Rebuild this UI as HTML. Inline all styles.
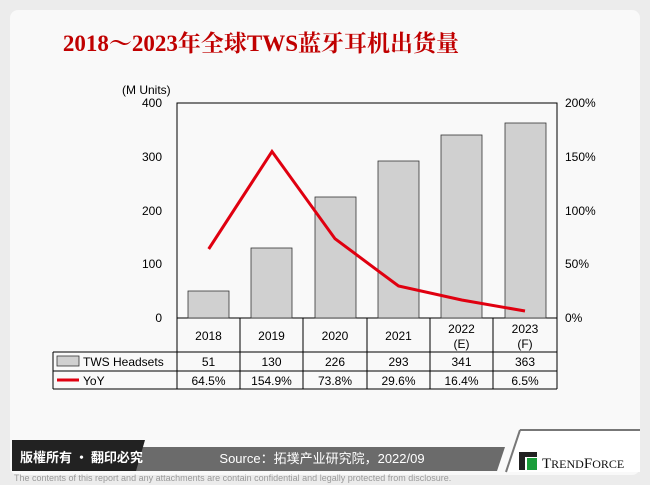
<!DOCTYPE html>
<html><head><meta charset="utf-8"><style>
body{margin:0;width:650px;height:485px;background:#ececec;overflow:hidden;font-family:"Liberation Sans","Noto Sans CJK SC",sans-serif;}
</style></head><body>
<svg width="650" height="485" xmlns="http://www.w3.org/2000/svg" style="position:absolute;left:0;top:0">
<rect x="10" y="10" width="630" height="465" rx="8" fill="#f9f9f9"/>
<text x="261" y="51" text-anchor="middle" font-family="Liberation Serif,'Noto Serif CJK SC',serif" font-weight="bold" font-size="23" fill="#c00000">2018～2023年全球TWS蓝牙耳机出货量</text>
<g font-size="12" fill="#000">
<text x="122" y="94">(M Units)</text>
<text x="162" y="107" text-anchor="end">400</text>
<text x="162" y="161" text-anchor="end">300</text>
<text x="162" y="215" text-anchor="end">200</text>
<text x="162" y="268" text-anchor="end">100</text>
<text x="162" y="322" text-anchor="end">0</text>
<text x="565" y="107">200%</text>
<text x="565" y="161">150%</text>
<text x="565" y="215">100%</text>
<text x="565" y="268">50%</text>
<text x="565" y="322">0%</text>
</g>
<rect x="177" y="103" width="380" height="215" fill="none" stroke="#000" stroke-width="1"/>
<g fill="#d0d0d0" stroke="#333" stroke-width="0.8">
<rect x="188" y="291" width="41" height="27"/>
<rect x="251" y="248" width="41" height="70"/>
<rect x="315" y="197" width="41" height="121"/>
<rect x="378" y="161" width="41" height="157"/>
<rect x="441" y="135" width="41" height="183"/>
<rect x="505" y="123" width="41" height="195"/>
</g>
<polyline points="208.7,249 272,151.5 335,238.7 398.5,286 461.7,300 525,311" fill="none" stroke="#e00010" stroke-width="3"/>
<g stroke="#000" stroke-width="1" fill="none">
<line x1="177" y1="318" x2="177" y2="389"/>
<line x1="240" y1="318" x2="240" y2="389"/>
<line x1="303" y1="318" x2="303" y2="389"/>
<line x1="367" y1="318" x2="367" y2="389"/>
<line x1="430" y1="318" x2="430" y2="389"/>
<line x1="493" y1="318" x2="493" y2="389"/>
<line x1="557" y1="318" x2="557" y2="389"/>
<line x1="53" y1="352" x2="557" y2="352"/>
<line x1="53" y1="371" x2="557" y2="371"/>
<line x1="53" y1="389" x2="557" y2="389"/>
<line x1="53" y1="352" x2="53" y2="389"/>
</g>
<g font-size="12" text-anchor="middle">
<text x="208.5" y="340">2018</text><text x="271.5" y="340">2019</text><text x="335" y="340">2020</text><text x="398.5" y="340">2021</text>
<text x="461.5" y="333">2022</text><text x="461.5" y="348">(E)</text><text x="525" y="333">2023</text><text x="525" y="348">(F)</text>
<text x="208.5" y="366">51</text><text x="271.5" y="366">130</text><text x="335" y="366">226</text><text x="398.5" y="366">293</text><text x="461.5" y="366">341</text><text x="525" y="366">363</text>
<text x="208.5" y="385">64.5%</text><text x="271.5" y="385">154.9%</text><text x="335" y="385">73.8%</text><text x="398.5" y="385">29.6%</text><text x="461.5" y="385">16.4%</text><text x="525" y="385">6.5%</text>
</g>
<rect x="57" y="356" width="22" height="10" fill="#d0d0d0" stroke="#333" stroke-width="0.8"/>
<text x="83" y="366" font-size="12">TWS Headsets</text>
<line x1="57" y1="380" x2="79" y2="380" stroke="#e00010" stroke-width="3"/>
<text x="83" y="385" font-size="12">YoY</text>
<polygon points="140,447 505,447 497,471 130,471" fill="#6b6b6b"/>
<polygon points="12,440 145,440 136,471 12,471" fill="#222"/>
<polygon points="520,430 640,430 640,472 506,472" fill="#fff"/>
<line x1="520" y1="430" x2="640" y2="430" stroke="#777" stroke-width="2"/>
<line x1="520" y1="430" x2="506" y2="472" stroke="#777" stroke-width="2"/>
<text x="20" y="462" font-size="13" font-weight="bold" fill="#fff" font-family="'Noto Sans CJK TC',sans-serif">版權所有 · 翻印必究</text>
<text x="322" y="463" text-anchor="middle" font-size="13" fill="#fff">Source：拓墣产业研究院，2022/09</text>
<rect x="519" y="452" width="6" height="18" fill="#222"/><rect x="519" y="452" width="18" height="5" fill="#222"/>
<rect x="527" y="458" width="10" height="12" fill="#1a9d3a"/>
<text x="542" y="468" font-size="15" font-family="Liberation Serif,serif" fill="#111">T<tspan font-size="12">REND</tspan>F<tspan font-size="12">ORCE</tspan></text>
<text x="14" y="481" font-size="9" fill="#999">The contents of this report and any attachments are contain confidential and legally protected from disclosure.</text>
</svg>
</body></html>
